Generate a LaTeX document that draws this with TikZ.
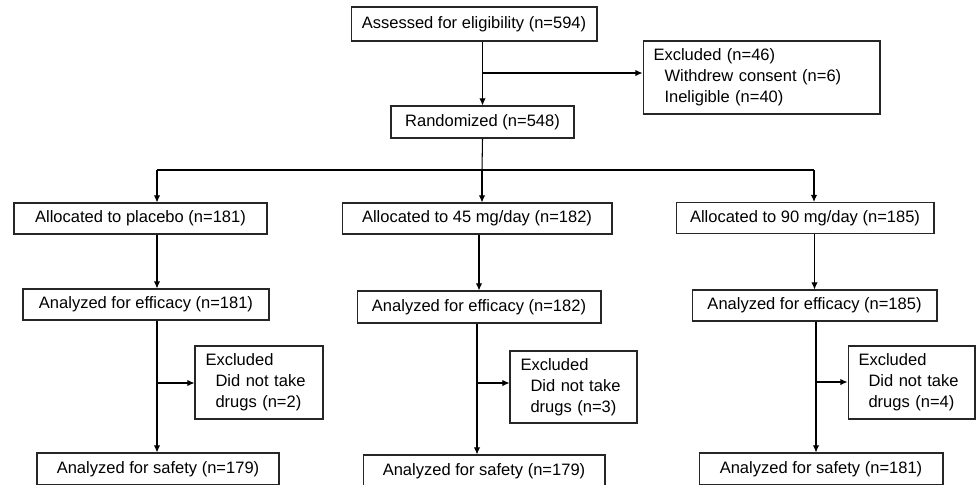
\documentclass[tikz,border=0pt]{standalone}
\usepackage{fontspec}
\setmainfont{Liberation Sans}
\usetikzlibrary{arrows.meta}

\begin{document}
\begin{tikzpicture}[x=0.02cm, y=-0.02cm,
	font=\fontsize{9.4}{11.9}\selectfont,
	every node/.style={draw=black!85, line width=0.6pt, inner sep=0pt},
	box/.style={minimum height=0.64cm, align=center},
	exbox/.style={inner xsep=0.21cm, align=left, minimum height=1.46cm},
	arr/.style={-{Latex[length=4pt,width=3.6pt]}},
	line width=0.6pt]
	\useasboundingbox (0,0) rectangle (976,484);

	% nodes
	\node[box, minimum width=4.92cm, minimum height=0.68cm] (assess) at (474,24) {Assessed for eligibility (n=594)};
	\node[box, minimum width=3.66cm] (rand) at (482.5,122) {Randomized (n=548)};
	\node[exbox, text width=4.32cm] (excl) at (761.5,77.5) {Excluded (n=46)\\\hspace*{0.22cm}Withdrew consent (n=6)\\\hspace*{0.22cm}Ineligible (n=40)};

	\node[box, minimum width=5.06cm, minimum height=0.62cm] (alp) at (140.5,218.5) {Allocated to placebo (n=181)};
	\node[box, minimum width=5.40cm, minimum height=0.62cm] (a45) at (477,218.5) {Allocated to 45 mg/day (n=182)};
	\node[box, minimum width=5.16cm, minimum height=0.62cm] (a90) at (805,218) {Allocated to 90 mg/day (n=185)};

	\node[box, minimum width=4.92cm, minimum height=0.62cm] (ep) at (146,304.5) {Analyzed for efficacy (n=181)};
	\node[box, minimum width=4.88cm] (e45) at (479,307) {Analyzed for efficacy (n=182)};
	\node[box, minimum width=4.90cm, minimum height=0.62cm] (e90) at (814.5,305.5) {Analyzed for efficacy (n=185)};

	\node[exbox, text width=2.14cm] (xp) at (259,382.5) {Excluded\\\hspace*{0.2cm}Did not take\\\hspace*{0.2cm}drugs (n=2)};
	\node[exbox, text width=2.12cm, minimum height=1.44cm] (x45) at (573.5,387) {Excluded\\\hspace*{0.2cm}Did not take\\\hspace*{0.2cm}drugs (n=3)};
	\node[exbox, text width=2.12cm] (x90) at (911.5,382.5) {Excluded\\\hspace*{0.2cm}Did not take\\\hspace*{0.2cm}drugs (n=4)};

	\node[box, minimum width=4.84cm] (sp) at (158,469) {Analyzed for safety (n=179)};
	\node[box, minimum width=4.84cm] (s45) at (484,471) {Analyzed for safety (n=179)};
	\node[box, minimum width=4.88cm] (s90) at (821,469) {Analyzed for safety (n=181)};

	% branch points
	\coordinate (split) at (482,73);
	\coordinate (fork) at (482,170);
	\coordinate (lbr) at (157,170);
	\coordinate (rbr) at (814,170);
	\coordinate (lsplit) at (157,383);
	\coordinate (msplit) at (477,383);
	\coordinate (rsplit) at (816,382);

	%lines
	\draw[arr] (rand.north |- assess.south) -- (rand.north);
	\draw[arr] (split) -- (split -| excl.west);
	\draw (rand.south) -- (fork);
	\draw (lbr) -- (rbr);
	\draw[arr] (lbr) -- (alp.north -| lbr);
	\draw[arr] (fork) -- (a45.north -| fork);
	\draw[arr] (rbr) -- (a90.north -| rbr);

	\draw[arr] (alp.south -| lsplit) -- (ep.north -| lsplit);
	\draw[arr] (a45.south -| e45.north) -- (e45.north);
	\draw[arr] (a90.south -| e90.north) -- (e90.north);

	\draw[arr] (ep.south -| lsplit) -- (sp.north -| lsplit);
	\draw[arr] (e45.south -| msplit) -- (s45.north -| msplit);
	\draw[arr] (e90.south -| rsplit) -- (s90.north -| rsplit);
	\draw[arr] (lsplit) -- (lsplit -| xp.west);
	\draw[arr] (msplit) -- (msplit -| x45.west);
	\draw[arr] (rsplit) -- (rsplit -| x90.west);
\end{tikzpicture}
\end{document}
